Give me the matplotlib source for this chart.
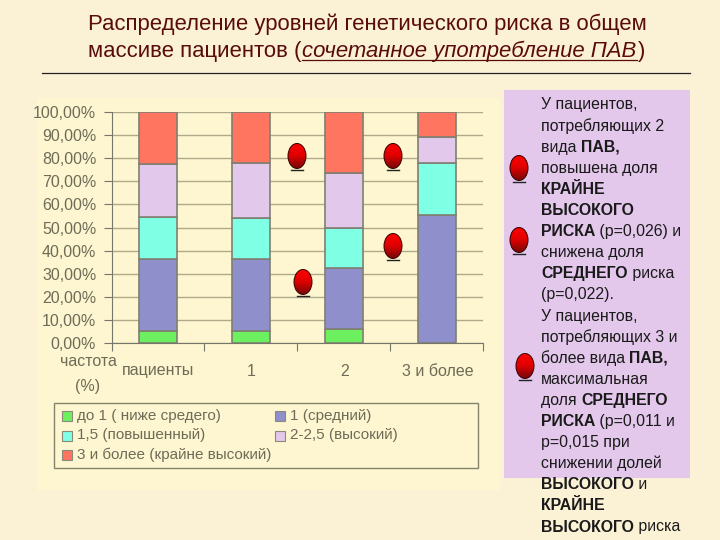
"""
Risk level distribution slide: stacked bars with markers and a side note
"""
import matplotlib
matplotlib.use('Agg')
import matplotlib.pyplot as plt
import numpy as np
from matplotlib.patches import Ellipse, Rectangle

plt.rcParams['font.family'] = ['Liberation Sans', 'DejaVu Sans']

categories = ["пациенты", "1", "2", "3 и более"]
low = [5, 5, 6, 0]
medium = [31.5, 31.5, 26.5, 55.5]
raised = [18, 17.5, 17.3, 22.5]
high = [23, 24, 23.8, 11]
extreme = [22.5, 22, 26.4, 11]
series = [low, medium, raised, high, extreme]
series_colors = ['#6CF060', '#8F8FCB', '#7FFFE3', '#E2C8EA', '#FF7560']
y_ticks = [0, 10, 20, 30, 40, 50, 60, 70, 80, 90, 100]
y_labels = ["0,00%", "10,00%", "20,00%", "30,00%", "40,00%", "50,00%",
            "60,00%", "70,00%", "80,00%", "90,00%", "100,00%"]

legend_left = ["до 1 ( ниже средего)", "1,5 (повышенный)", "3 и более (крайне высокий)"]
legend_left_colors = ['#6CF060', '#7FFFE3', '#FF7560']
legend_right = ["1 (средний)", "2-2,5 (высокий)"]
legend_right_colors = ['#8F8FCB', '#E2C8EA']

# (text, bold) runs for every line of the side note
note_lines = [
    [("У пациентов,", False)],
    [("потребляющих 2", False)],
    [("вида ", False), ("ПАВ,", True)],
    [("повышена доля", False)],
    [("КРАЙНЕ", True)],
    [("ВЫСОКОГО", True)],
    [("РИСКА", True), (" (р=0,026) и", False)],
    [("снижена доля", False)],
    [("СРЕДНЕГО", True), (" риска", False)],
    [("(р=0,022).", False)],
    [("У пациентов,", False)],
    [("потребляющих 3 и", False)],
    [("более вида ", False), ("ПАВ,", True)],
    [("максимальная", False)],
    [("доля ", False), ("СРЕДНЕГО", True)],
    [("РИСКА", True), (" (р=0,011 и", False)],
    [("р=0,015 при", False)],
    [("снижении долей", False)],
    [("ВЫСОКОГО", True), (" и", False)],
    [("КРАЙНЕ", True)],
    [("ВЫСОКОГО", True), (" риска", False)],
]

balloons = [(297, 156), (393, 156), (393, 246), (303, 282),
            (519, 168), (519, 240), (525, 366)]

BG = '#FBF2D6'
PANEL = '#FEF6D0'
GRAY = '#6E6C58'
TITLE = '#5A0C0C'
W, H = 720, 540

fig = plt.figure(figsize=(W / 100, H / 100), dpi=100, facecolor=BG)
renderer = fig.canvas.get_renderer()

# pixel coordinate layer for the slide decoration
page = fig.add_axes([0, 0, 1, 1], zorder=0)
page.set_xlim(0, W)
page.set_ylim(H, 0)
page.axis('off')
page.add_patch(Rectangle((37, 98), 463, 392, fc=PANEL, ec='none'))
page.add_patch(Rectangle((504, 90), 186, 388, fc='#E3C8EC', ec='none'))
page.plot([42, 690], [72.5, 72.5], color='#222222', lw=0.9)
page.text(88, 24, "Распределение уровней генетического риска в общем",
          fontsize=15.9, color=TITLE, va='center')

# second title line is three runs, the middle one italic and underlined
t = page.text(88, 51, "массиве пациентов (", fontsize=15.9, color=TITLE, va='center')
start = 88 + t.get_window_extent(renderer).width + 1
t = page.text(start, 51, "сочетанное употребление ПАВ", fontsize=15.9, color=TITLE,
              va='center', style='italic')
end = start + t.get_window_extent(renderer).width
page.plot([start, end], [60, 60], color=TITLE, lw=0.9)
page.text(end + 1, 51, ")", fontsize=15.9, color=TITLE, va='center')

# chart
ax = fig.add_axes([111.5 / W, 1 - 343 / H, (483 - 111.5) / W, (343 - 112) / H],
                  zorder=1, facecolor='none')
x = np.arange(len(categories))
bottom = np.zeros(len(categories))
for values, color in zip(series, series_colors):
    ax.bar(x, values, 0.41, bottom=bottom, color=color, edgecolor='#7F7F72', linewidth=1.2,
           zorder=3)
    bottom += np.array(values)
ax.set_xlim(-0.5, 3.5)
ax.set_ylim(0, 100)
ax.set_yticks(y_ticks)
ax.set_yticklabels(y_labels, fontsize=11.5, color=GRAY)
ax.set_xticks([-0.5, 0.5, 1.5, 2.5, 3.5])
ax.set_xticklabels([])
ax.yaxis.grid(True, color='#AEAB8C', lw=1)
ax.set_axisbelow(True)
ax.tick_params(axis='y', color='#77766A', length=6, pad=5)
ax.tick_params(axis='x', color='#77766A', length=6)
for name in ['top', 'right']:
    ax.spines[name].set_visible(False)
for name in ['left', 'bottom']:
    ax.spines[name].set_color('#77766A')

for i, name in enumerate(categories):
    page.text(158 + i * 93.3, 371, name, fontsize=11.5, color=GRAY, ha='center', va='center')
page.text(88, 362, "частота", fontsize=11.5, color=GRAY, ha='center', va='center')
page.text(88, 387, "(%)", fontsize=11.5, color=GRAY, ha='center', va='center')

# legend box
page.add_patch(Rectangle((53.5, 403), 424.5, 64.5, fc=PANEL, ec='#85836A', lw=1))
for i, (name, color) in enumerate(zip(legend_left, legend_left_colors)):
    y = 416 + i * 19.5
    page.add_patch(Rectangle((62, y - 5), 10, 10, fc=color, ec='#8A8A7A', lw=0.8))
    page.text(77, y, name, fontsize=11, color=GRAY, va='center')
for i, (name, color) in enumerate(zip(legend_right, legend_right_colors)):
    y = 416 + i * 19.5
    page.add_patch(Rectangle((274.5, y - 5), 10, 10, fc=color, ec='#8A8A7A', lw=0.8))
    page.text(290, y, name, fontsize=11, color=GRAY, va='center')

# side note, bold and normal runs laid out one after another
for row, runs in enumerate(note_lines):
    cursor = 541
    y = 105 + row * 21.1
    for text, bold in runs:
        t = page.text(cursor, y, text, fontsize=11.4, color='#1A1A1A', va='center',
                      fontweight='bold' if bold else 'normal', zorder=3)
        cursor += t.get_window_extent(renderer).width

# balloons with a vertical red gradient on a small stand
overlay = fig.add_axes([0, 0, 1, 1], zorder=2, facecolor='none')
grad = np.linspace(0, 1, 64).reshape(-1, 1)
cmap = matplotlib.colors.LinearSegmentedColormap.from_list('balloon', ['#FF0000', '#E00000', '#7A0808'])
for bx, by in balloons:
    im = overlay.imshow(grad, extent=(bx - 9, bx + 9, by + 12.5, by - 12.5), cmap=cmap, aspect='auto',
                        interpolation='bilinear', zorder=4)
    shape = Ellipse((bx, by), 18, 25, fc='none', ec='#300000', lw=0.7, zorder=5)
    overlay.add_patch(shape)
    im.set_clip_path(shape)
    overlay.plot([bx - 6, bx + 6], [by + 13.5, by + 13.5], color='#222222', lw=1, zorder=5)
overlay.set_xlim(0, W)
overlay.set_ylim(H, 0)
overlay.axis('off')

fig.savefig('out.png', dpi=100, facecolor=BG)
